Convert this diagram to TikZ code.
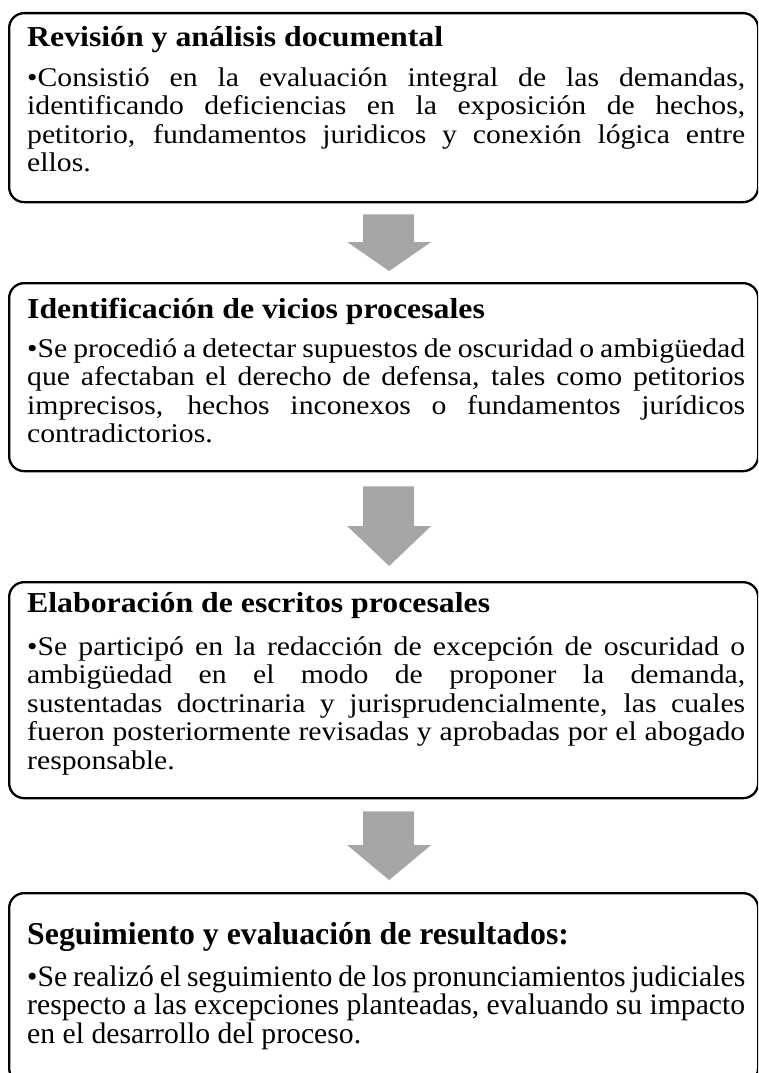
\documentclass[tikz,border=0pt]{standalone}
\usepackage{fontspec}
\setmainfont{Liberation Serif}
\newfontfamily\widefont{Liberation Serif}[FakeStretch=1.1]
\usetikzlibrary{calc}
\definecolor{arrowgray}{HTML}{A6A6A6}
\newcommand{\jl}[1]{\hbox to \hsize{#1}}
\newcommand{\lastln}[1]{\hbox{#1}}
\newcommand{\bodyblock}[1]{\vtop{\hsize=718pt\baselineskip=28.5pt\lineskiplimit=-20pt #1}}
\newcommand{\dnarrow}[5]{%
  \fill[arrowc] ($(#1.south)+(-20.5,-#3)$) -- ($(#1.south)+(30.5,-#3)$)
    -- ($(#2.north)+(30.5,#5+#4)$) -- ($(#2.north)+(47.5,#5+#4)$)
    -- ($(#2.north)+(5.5,#5)$) -- ($(#2.north)+(-36.5,#5+#4)$)
    -- ($(#2.north)+(-20.5,#5+#4)$) -- cycle;}
\begin{document}
\begin{tikzpicture}[x=1pt,y=1pt,
  box/.style={draw=black, line width=2.3pt, rounded corners=15pt, minimum width=749pt,
    anchor=north west, inner sep=0pt},
  heading/.style={anchor=base west, inner sep=0pt, font=\widefont\fontsize{28.9}{34}\selectfont\bfseries},
  body/.style={anchor=base west, inner sep=0pt, font=\widefont\fontsize{27}{28.5}\selectfont},
  heading4/.style={anchor=base west, inner sep=0pt, font=\fontsize{31.8}{34}\selectfont\bfseries},
  body4/.style={anchor=base west, inner sep=0pt, font=\fontsize{29.7}{28.5}\selectfont},
  arrowc/.style={fill=arrowgray}]
\useasboundingbox (0,0) rectangle (758,-1073);
\clip (0,0) rectangle (758,-1073);
% boxes
\node[box, minimum height=189pt] (b1) at (8,-12) {};
\node[box, minimum height=188pt] (b2) at (8,-282) {};
\node[box, minimum height=216pt] (b3) at (8,-581) {};
\node[box, minimum height=190pt] (b4) at (8,-892) {};
% box 1
\node[heading] (h1) at (27,-47) {Revisión y análisis documental};
\node[body] (t1) at (27,-86) {\bodyblock{%
\jl{\textbullet Consistió en la evaluación integral de las demandas,}
\jl{identificando deficiencias en la exposición de hechos,}
\jl{petitorio, fundamentos juridicos y conexión lógica entre}
\lastln{ellos.}}};
% box 2
\node[heading] (h2) at (27,-318) {Identificación de vicios procesales};
\node[body] (t2) at (27,-357) {\bodyblock{%
\jl{\textbullet Se procedió a detectar supuestos de oscuridad o ambigüedad}
\jl{que afectaban el derecho de defensa, tales como petitorios}
\jl{imprecisos, hechos inconexos o fundamentos jurídicos}
\lastln{contradictorios.}}};
% box 3
\node[heading] (h3) at (27,-612) {Elaboración de escritos procesales};
\node[body] (t3) at (27,-655) {\bodyblock{%
\jl{\textbullet Se participó en la redacción de excepción de oscuridad o}
\jl{ambigüedad en el modo de proponer la demanda,}
\jl{sustentadas doctrinaria y jurisprudencialmente, las cuales}
\jl{fueron posteriormente revisadas y aprobadas por el abogado}
\lastln{responsable.}}};
% box 4
\node[heading4] (h4) at (27,-944) {Seguimiento y evaluación de resultados:};
\node[body4] (t4) at (27,-986) {\bodyblock{%
\jl{\textbullet Se realizó el seguimiento de los pronunciamientos judiciales}
\jl{respecto a las excepciones planteadas, evaluando su impacto}
\lastln{en el desarrollo del proceso.}}};
% arrows
\dnarrow{b1}{b2}{11}{29}{11}
\dnarrow{b2}{b3}{14}{40}{15}
\dnarrow{b3}{b4}{12}{35}{12}
\end{tikzpicture}
\end{document}
